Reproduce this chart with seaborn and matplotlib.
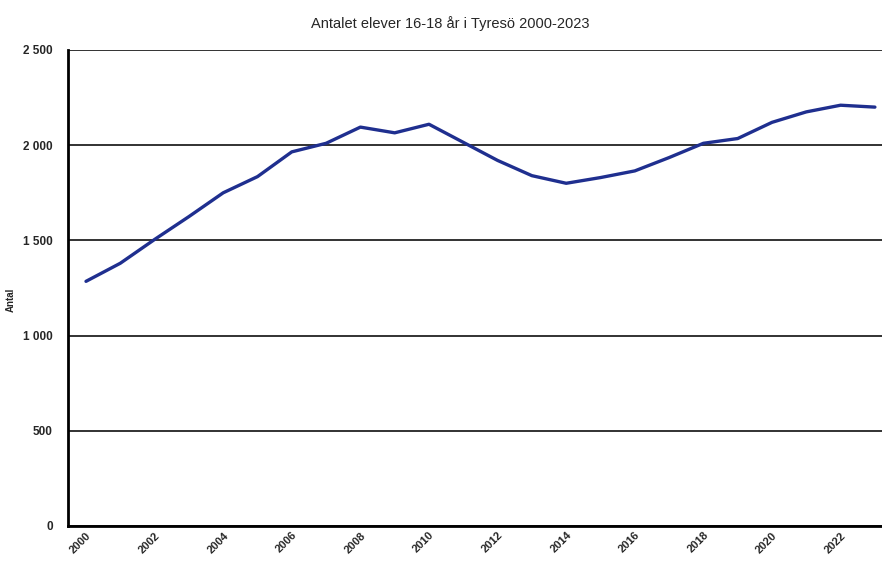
import matplotlib
matplotlib.use("Agg")
import matplotlib.pyplot as plt
import matplotlib.ticker as mticker
import seaborn as sns
import pandas as pd

years = list(range(2000, 2024))
antal = [1285, 1380, 1505, 1625, 1750, 1835, 1965, 2010, 2095, 2065, 2110, 2015,
         1920, 1840, 1800, 1830, 1865, 1935, 2010, 2035, 2120, 2175, 2210, 2200]
x_ticks = list(range(2000, 2023, 2))
y_ticks = [0, 500, 1000, 1500, 2000, 2500]
title = "Antalet elever 16-18 år i Tyresö 2000-2023"
y_label = "Antal"

sns.set_theme(style="white")
plt.rcParams['font.family'] = ['Liberation Sans', 'DejaVu Sans']

df = pd.DataFrame({"År": years, "Antal": antal})

fig = plt.figure(figsize=(8.82, 5.61), dpi=100)
ax = fig.add_axes([68/882, 35/561, 1 - 68/882, 476/561])

sns.lineplot(data=df, x="År", y="Antal", ax=ax, color="#1f2f8f", linewidth=2.4)

ax.set_xlim(2000 - 18/34.3, 2000 + (882 - 86)/34.3)
ax.set_ylim(0, 2500)
ax.set_yticks(y_ticks)
ax.yaxis.set_major_formatter(mticker.FuncFormatter(lambda v, p: f"{int(v):,}".replace(",", " ")))
ax.set_xticks(x_ticks)
ax.set_xticklabels([str(y) for y in x_ticks], rotation=45, ha="right",
                   rotation_mode="anchor", fontsize=8, fontweight="bold")
for lab in ax.get_yticklabels():
    lab.set_fontsize(8.5)
    lab.set_fontweight("bold")
ax.tick_params(axis="both", length=0)
ax.tick_params(axis="y", pad=11)
ax.tick_params(axis="x", pad=3)

ax.grid(axis="y", color="#222222", linewidth=1.3)
ax.grid(axis="x", visible=False)
for s in ["top", "right"]:
    ax.spines[s].set_visible(False)
for s in ["left", "bottom"]:
    ax.spines[s].set_color("black")
    ax.spines[s].set_linewidth(2.0)

ax.set_xlabel("")
ax.set_ylabel(y_label, fontsize=7, fontweight="bold")
ax.yaxis.set_label_coords((16 - 68) / 814, (526 - 300) / 476)
fig.text(0.51, 0.958, title, ha="center", va="center", fontsize=10.5)

fig.savefig("out.png", dpi=100)
